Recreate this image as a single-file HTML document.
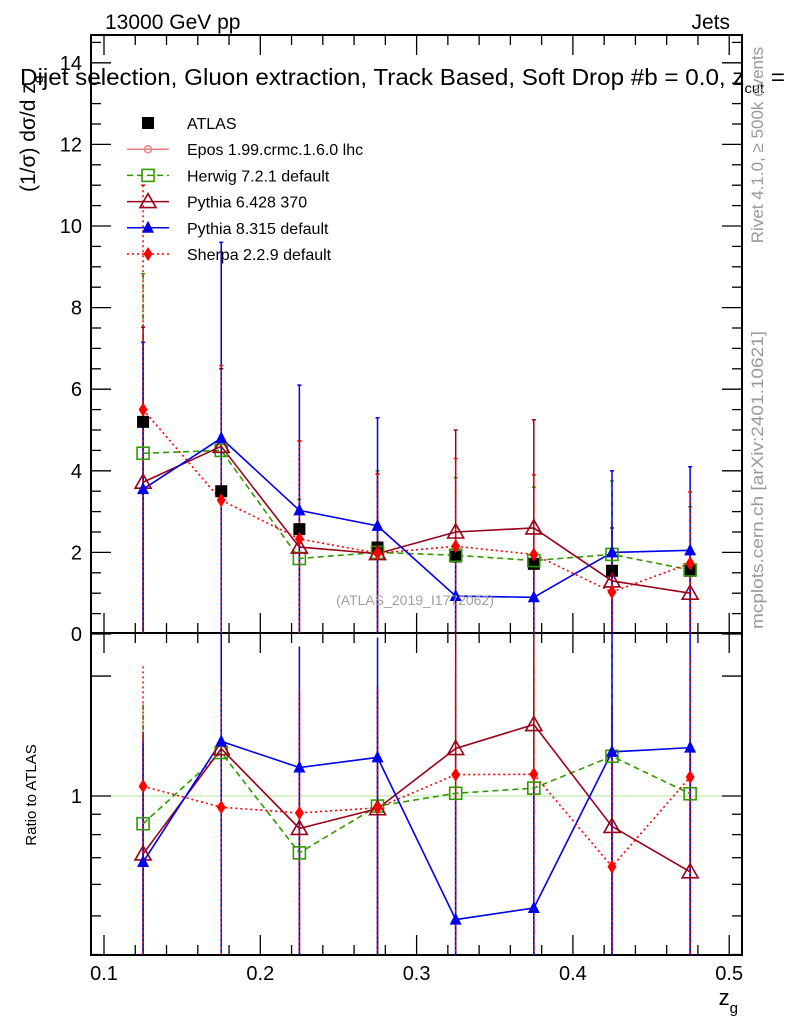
<!DOCTYPE html>
<html><head><meta charset="utf-8"><style>
body{margin:0;background:#fff;}
svg text{font-family:"Liberation Sans",sans-serif;}
</style></head><body>
<svg id="c" width="786" height="1024" xmlns="http://www.w3.org/2000/svg">
<g id="g"></g>
</svg>
<script>
const categories=[0.125,0.175,0.225,0.275,0.325,0.375,0.425,0.475];
const atlas=[5.2,3.5,2.57,2.12,1.9,1.72,1.55,1.55];
const herwig=[4.43,4.5,1.85,2.0,1.93,1.8,1.95,1.57];
const pythia6=[3.72,4.6,2.13,1.97,2.5,2.6,1.3,1.0];
const pythia8=[3.55,4.8,3.03,2.65,0.93,0.9,2.0,2.05];
const sherpa=[5.5,3.28,2.33,1.98,2.15,1.95,1.03,1.73];
const herwigErr=[4.4,2.0,1.45,2.0,1.9,1.8,1.8,1.55];
const pythia6Err=[3.8,1.9,2.6,1.95,2.5,2.65,1.3,1.0];
const pythia8Err=[3.6,4.8,3.07,2.65,0.93,0.9,2.0,2.05];
const sherpaErr=[5.5,3.3,2.4,1.95,2.15,1.95,1.05,1.75];
const yTicks=[0,2,4,6,8,10,12,14];
const xTicks=[0.1,0.2,0.3,0.4,0.5];

const NS="http://www.w3.org/2000/svg";
const g=document.getElementById('g');
function el(t,a,txt){const e=document.createElementNS(NS,t);for(const k in a)e.setAttribute(k,a[k]);if(txt!==undefined)e.textContent=txt;g.appendChild(e);return e;}
const L=91,R=742,T=35,M=633,B=955;
const X=v=>104+(v-0.1)*1563;
const Y=v=>634-v*40.8;
const RY=v=>Math.min(B,Math.max(M,796-Math.log(v)*173));

let f=el('rect',{x:L,y:T,width:R-L,height:M-T,fill:'none',stroke:'#000','stroke-width':2});

f=el('rect',{x:L,y:M,width:R-L,height:B-M,fill:'none',stroke:'#000','stroke-width':2});

let l1=el('line',{x1:L,x2:R,y1:RY(1),y2:RY(1),stroke:'#b0e0a0','stroke-width':1});


for(let v=0.1;v<=0.5001;v+=0.02){
  const x=X(v);const maj=Math.abs(v*10-Math.round(v*10))<1e-6;const len=maj?20:10;
  for(const [y0,d] of [[M,-1],[T,1],[B,-1],[M,1]]){el('line',{x1:x,x2:x,y1:y0,y2:y0+d*len,stroke:'#000','stroke-width':1.3});}
}
xTicks.forEach(v=>{const t=el('text',{x:X(v),y:980,'font-size':20,'text-anchor':'middle'},v.toFixed(1));
});
for(let v=0;v<=14.6;v+=0.5){const y=Y(v);if(y<T)break;const maj=Math.abs(v%2)<1e-6;const len=maj?20:10;
 el('line',{x1:L,x2:L+len,y1:y,y2:y,stroke:'#000','stroke-width':1.3});el('line',{x1:R,x2:R-len,y1:y,y2:y,stroke:'#000','stroke-width':1.3});}
yTicks.forEach(v=>{const t=el('text',{x:82,y:Y(v)+7,'font-size':20,'text-anchor':'end'},String(v));
});
[0.4,0.5,0.6,0.7,0.8,0.9,1,2].forEach(v=>{const y=RY(v);const len=(v===1||v===2)?20:10;
 el('line',{x1:L,x2:L+len,y1:y,y2:y,stroke:'#000','stroke-width':1.3});el('line',{x1:R,x2:R-len,y1:y,y2:y,stroke:'#000','stroke-width':1.3});});
let t1=el('text',{x:82,y:RY(1)+7,'font-size':20,'text-anchor':'end'},'1');


const defs=el('defs',{});
const cp1=document.createElementNS(NS,'clipPath');cp1.setAttribute('id','cm');const r1=document.createElementNS(NS,'rect');
r1.setAttribute('x',L);r1.setAttribute('y',T);r1.setAttribute('width',R-L);r1.setAttribute('height',M-T);cp1.appendChild(r1);defs.appendChild(cp1);
const cp2=document.createElementNS(NS,'clipPath');cp2.setAttribute('id','cr');const r2=document.createElementNS(NS,'rect');
r2.setAttribute('x',L);r2.setAttribute('y',M);r2.setAttribute('width',R-L);r2.setAttribute('height',B-M);cp2.appendChild(r2);defs.appendChild(cp2);

const series=[
 {name:'herwig',vals:herwig,err:herwigErr,color:'#339900',dash:'6,4',marker:'osq'},
 {name:'pythia6',vals:pythia6,err:pythia6Err,color:'#990019',dash:'',marker:'otri'},
 {name:'pythia8',vals:pythia8,err:pythia8Err,color:'#0000ee',dash:'',marker:'tri'},
 {name:'sherpa',vals:sherpa,err:sherpaErr,color:'#ff0000',dash:'2,3',marker:'dia'}
];
function marker(type,x,y,c,name){
 let e;
 if(type==='osq')e=el('rect',{x:x-6,y:y-6,width:12,height:12,fill:'#fff','fill-opacity':0,stroke:c,'stroke-width':1.6});
 else if(type==='otri')e=el('polygon',{points:`${x},${y-8} ${x-8},${y+6} ${x+8},${y+6}`,fill:'none',stroke:c,'stroke-width':1.6});
 else if(type==='tri')e=el('polygon',{points:`${x},${y-7} ${x-6},${y+5} ${x+6},${y+5}`,fill:c});
 else if(type==='dia')e=el('polygon',{points:`${x},${y-7} ${x-4.5},${y} ${x},${y+7} ${x+4.5},${y}`,fill:c});
 else if(type==='sq')e=el('rect',{x:x-6,y:y-6,width:12,height:12,fill:c});
 return e;
}
series.forEach(s=>{
 const grp=el('g',{'clip-path':'url(#cm)'});
 s.vals.forEach((v,i)=>{const x=X(categories[i]);
  const e=document.createElementNS(NS,'line');e.setAttribute('x1',x);e.setAttribute('x2',x);e.setAttribute('y1',Y(v+s.err[i]));e.setAttribute('y2',Y(Math.max(0,v-s.err[i])));
  e.setAttribute('stroke',s.color);e.setAttribute('stroke-width',1.5);if(s.dash)e.setAttribute('stroke-dasharray',s.dash);
  grp.appendChild(e);
  const c=document.createElementNS(NS,'line');c.setAttribute('x1',x-2);c.setAttribute('x2',x+2);c.setAttribute('y1',Y(v+s.err[i]));c.setAttribute('y2',Y(v+s.err[i]));c.setAttribute('stroke',s.color);c.setAttribute('stroke-width',1.5);grp.appendChild(c);
 });
 
});
series.forEach(s=>{
 const p=el('polyline',{points:s.vals.map((v,i)=>X(categories[i])+','+Y(v)).join(' '),fill:'none',stroke:s.color,'stroke-width':1.6,'stroke-dasharray':s.dash||'none'});
 
});
atlas.forEach((v,i)=>marker('sq',X(categories[i]),Y(v),'#000','atlas-point'));
series.forEach(s=>s.vals.forEach((v,i)=>marker(s.marker,X(categories[i]),Y(v),s.color,s.name+'-point')));
series.forEach(s=>{
 const grp=el('g',{'clip-path':'url(#cr)'});
 
 s.vals.forEach((v,i)=>{const x=X(categories[i]);const top=(v+s.err[i])/atlas[i];const bot=Math.max(0.01,(v-s.err[i])/atlas[i]);
  const e=document.createElementNS(NS,'line');e.setAttribute('x1',x);e.setAttribute('x2',x);e.setAttribute('y1',RY(top));e.setAttribute('y2',RY(bot));
  e.setAttribute('stroke',s.color);e.setAttribute('stroke-width',1.5);if(s.dash)e.setAttribute('stroke-dasharray',s.dash);
  grp.appendChild(e);});
});
series.forEach(s=>{
 const p=el('polyline',{points:s.vals.map((v,i)=>X(categories[i])+','+RY(v/atlas[i])).join(' '),fill:'none',stroke:s.color,'stroke-width':1.6,'stroke-dasharray':s.dash||'none'});
 
});
series.forEach(s=>s.vals.forEach((v,i)=>marker(s.marker,X(categories[i]),RY(v/atlas[i]),s.color,s.name+'-ratio-point')));

const leg=[['ATLAS','#000','','sq'],['Epos 1.99.crmc.1.6.0 lhc','#f08080','','plus'],['Herwig 7.2.1 default','#339900','6,4','osq'],
['Pythia 6.428 370','#990019','','otri'],['Pythia 8.315 default','#0000ee','','tri'],['Sherpa 2.2.9 default','#ff0000','2,3','dia']];
leg.forEach((e,i)=>{const y=123+i*26.2;
 if(i>0){const ln=el('line',{x1:127,x2:169,y1:y,y2:y,stroke:e[1],'stroke-width':1.5,'stroke-dasharray':e[2]||'none'});}
 if(e[3]==='plus'){el('circle',{cx:148,cy:y,r:3.5,fill:'none',stroke:e[1],'stroke-width':1.5});}
 else marker(e[3],148,y,e[1],'legend-marker');
 const t=el('text',{x:187,y:y+6,'font-size':16},e[0]);
});
</script>
<svg width="786" height="1024" style="position:absolute;left:0;top:0" xmlns="http://www.w3.org/2000/svg">
<text x="105" y="29" font-size="21" font-family="Liberation Sans">13000 GeV pp</text>
<text x="730" y="29" font-size="21" text-anchor="end" font-family="Liberation Sans">Jets</text>
<text x="20" y="85" font-size="23" textLength="765" lengthAdjust="spacingAndGlyphs" font-family="Liberation Sans">Dijet selection, Gluon extraction, Track Based, Soft Drop #b = 0.0, z<tspan font-size="14" dy="8">cut</tspan><tspan dy="-8"> =</tspan></text>
<text transform="translate(35,192) rotate(-90)" font-size="21" font-family="Liberation Sans">(1/σ) dσ/d z<tspan font-size="14" dy="8">g</tspan></text>
<text transform="translate(36,795) rotate(-90)" font-size="15" text-anchor="middle" font-family="Liberation Sans">Ratio to ATLAS</text>
<text x="738" y="1005" font-size="22" text-anchor="end" font-family="Liberation Sans">z<tspan font-size="15" dy="8">g</tspan></text>
<text transform="translate(763,145) rotate(-90)" font-size="17" fill="#999" text-anchor="middle" font-family="Liberation Sans">Rivet 4.1.0, ≥ 500k events</text>
<text transform="translate(763,480) rotate(-90)" font-size="17" fill="#999" text-anchor="middle" textLength="298" lengthAdjust="spacingAndGlyphs" font-family="Liberation Sans">mcplots.cern.ch [arXiv:2401.10621]</text>
<text x="415" y="605" font-size="14" fill="#a0a0a0" text-anchor="middle" font-family="Liberation Sans">(ATLAS_2019_I1772062)</text>
</svg>
</body></html>
